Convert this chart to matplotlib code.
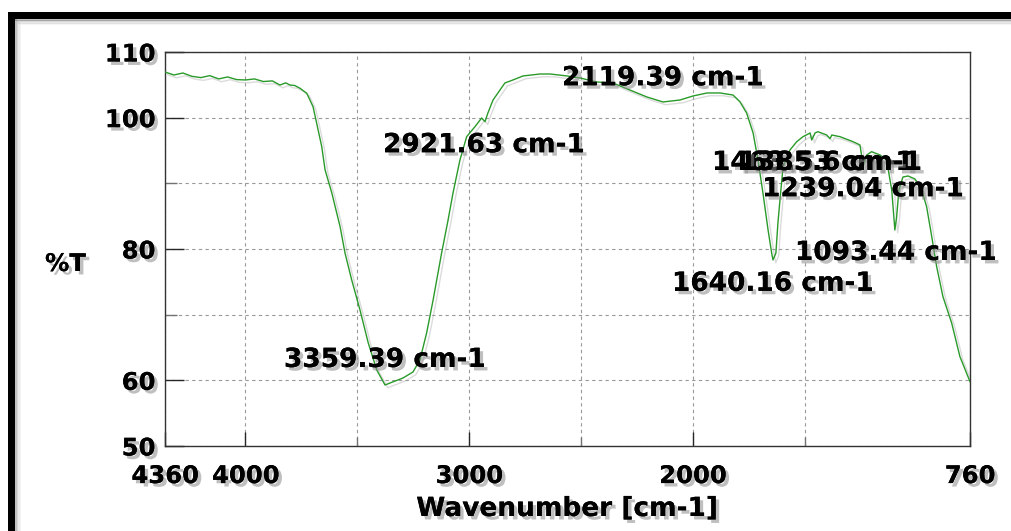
import matplotlib
matplotlib.use("Agg")
import matplotlib.pyplot as plt
import matplotlib.patheffects as pe
from matplotlib.patches import Rectangle

# IR spectrum (wavenumber in cm-1, %T)
wavenumber = [4360, 4320, 4280, 4240, 4200, 4160, 4120, 4080, 4040, 4000,
              3960, 3920, 3880, 3846, 3820, 3801, 3780, 3756, 3726, 3698,
              3682, 3659, 3644, 3614, 3577, 3555, 3525, 3488, 3451, 3413,
              3376, 3354, 3296, 3251, 3220, 3190, 3161, 3123, 3094, 3072,
              3041, 3011, 2974, 2944, 2929, 2916, 2893, 2862, 2840, 2804,
              2759, 2683, 2638, 2562, 2504, 2428, 2357, 2281, 2205, 2133,
              2057, 1999, 1936, 1878, 1820, 1789, 1759, 1730, 1708, 1686,
              1663, 1647, 1641, 1628, 1619, 1607, 1596, 1565, 1535, 1507,
              1475, 1468, 1453, 1440, 1401, 1386, 1378, 1341, 1283, 1252,
              1244, 1239, 1222, 1200, 1162, 1133, 1110, 1096, 1088, 1078,
              1060, 1037, 1006, 976, 954, 931, 909, 881, 842, 805, 760]
transmittance = [106.95, 106.5, 106.8, 106.3, 106.1, 106.4, 105.9, 106.2, 105.8, 105.74,
                 105.9, 105.5, 105.6, 104.97, 105.3, 104.97, 104.9, 104.47, 103.71, 101.67,
                 99.19, 95.58, 92.03, 88.53, 83.4, 79.39, 75.28, 70.71, 65.69, 61.57,
                 59.29, 59.59, 60.35, 61.27, 63.1, 67.21, 72.23, 79.39, 84.42, 88.53,
                 93.55, 97.1, 98.62, 99.95, 99.39, 100.71, 102.69, 104.21, 105.28, 105.74,
                 106.35, 106.65, 106.65, 106.35, 106.04, 105.43, 105.28, 104.21, 103.15, 102.39,
                 102.69, 103.3, 103.76, 103.76, 103.45, 102.43, 100.71, 97.67, 93.55, 88.53,
                 82.89, 79.39, 78.33, 79.39, 83.96, 88.53, 92.49, 95.08, 96.34, 97.1,
                 97.67, 96.6, 97.67, 97.86, 97.36, 96.8, 97.36, 97.1, 96.34, 95.84,
                 94.06, 92.53, 94.31, 94.82, 94.31, 93.55, 88.98, 82.89, 84.92, 88.98,
                 90.96, 91.12, 90.66, 88.98, 86.44, 81.87, 77.3, 72.74, 68.73, 63.6, 59.8]

# peak labels: text, and where the label text starts (x, y in data units)
peak_labels = ["2119.39 cm-1", "2921.63 cm-1", "3359.39 cm-1", "1463.53 cm-1",
               "1385.6 cm-1", "1239.04 cm-1", "1093.44 cm-1", "1640.16 cm-1"]
label_x = [2585, 3385, 3828, 1914, 1795, 1690, 1543, 2093]
label_y = [106.0, 95.8, 63.1, 93.1, 93.1, 89.1, 79.4, 74.7]

x_ticks = [4360, 4000, 3000, 2000, 760]
x_minor = [3500, 2500, 1500]
y_ticks = [50, 60, 80, 100, 110]
y_minor = [70, 90]

W, H = 1011, 531
fig = plt.figure(figsize=(W / 100, H / 100), dpi=100)
ax = fig.add_axes([165 / W, 1 - 446 / H, 805 / W, 394 / H])

shadow = [pe.withSimplePatchShadow(offset=(2.5, -2.5), shadow_rgbFace="0.55", alpha=0.55), pe.Normal()]
tick_font = dict(family="DejaVu Sans", weight="bold", size=17.5)
font = dict(family="DejaVu Sans", weight="bold", size=19)

ax.plot(wavenumber, transmittance, color="#2a9a2a", lw=1.0, zorder=3,
        path_effects=[pe.SimpleLineShadow(offset=(2, -2), shadow_color="0.6", alpha=0.35), pe.Normal()])

ax.set_xlim(4360, 760)
ax.set_ylim(50, 110)

ax.set_xticks(x_ticks)
ax.set_xticks(x_minor, minor=True)
ax.set_yticks(y_ticks)
ax.set_yticks(y_minor, minor=True)
ax.set_xticklabels([str(t) for t in x_ticks])
ax.set_yticklabels([str(t) for t in y_ticks])

ax.tick_params(axis="x", which="major", direction="in", length=10, width=1, color="0.15", pad=13)
ax.tick_params(axis="x", which="minor", direction="in", length=6.5, width=1, color="0.45")
ax.tick_params(axis="y", which="major", direction="in", length=14, width=1, color="0.15", pad=7)
ax.tick_params(axis="y", which="minor", direction="in", length=8.5, width=1, color="0.45")
for lab in ax.get_xticklabels() + ax.get_yticklabels():
    lab.set_fontproperties(matplotlib.font_manager.FontProperties(**tick_font))
    lab.set_path_effects(shadow)

ax.grid(True, which="both", color="0.6", linestyle=(0, (3, 3)), lw=0.8)
ax.set_axisbelow(True)
for s in ax.spines.values():
    s.set_color("0.2")
    s.set_linewidth(1.0)

for txt, xx, yy in zip(peak_labels, label_x, label_y):
    ax.text(xx, yy, txt, ha="left", va="center", color="black", zorder=5,
            path_effects=shadow, **font)

fig.text(45 / W, 1 - 264 / H, "%T", ha="left", va="center", path_effects=shadow, **tick_font)
fig.text(567 / W, 1 - 509 / H, "Wavenumber [cm-1]", ha="center", va="center",
         path_effects=shadow, **font)

# thick black frame (left and top) with soft shadow
for i, a in enumerate([0.35, 0.22, 0.12, 0.05]):
    fig.patches.append(Rectangle(((15 + i * 1.5) / W, 0), 1.5 / W, 1 - (19 + i * 1.5) / H,
                                 transform=fig.transFigure, color="0.3", alpha=a, lw=0))
    fig.patches.append(Rectangle(((15 + i * 1.5) / W, 1 - (20.5 + i * 1.5) / H), 1, 1.5 / H,
                                 transform=fig.transFigure, color="0.3", alpha=a, lw=0))
fig.patches.append(Rectangle((8 / W, 0), 7 / W, 1 - 12 / H, transform=fig.transFigure,
                             color="black", lw=0))
fig.patches.append(Rectangle((8 / W, 1 - 19 / H), 1, 7 / H, transform=fig.transFigure,
                             color="black", lw=0))

fig.savefig("out.png", dpi=100)
